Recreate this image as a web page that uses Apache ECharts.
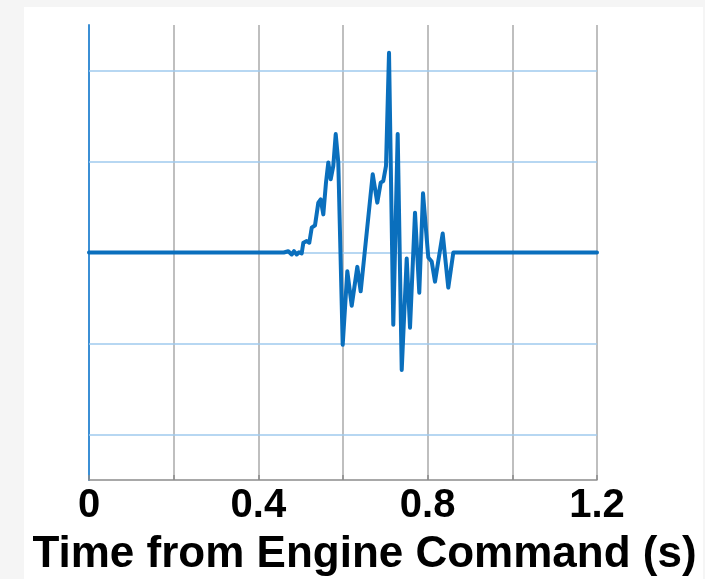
<!DOCTYPE html>
<html>
<head>
<meta charset="utf-8">
<script src="https://cdn.jsdelivr.net/npm/echarts@6/dist/echarts.min.js"></script>
<style>
  html, body { margin: 0; padding: 0; background: #f5f5f5; width: 705px; height: 579px; overflow: hidden; }
  #chart { position: absolute; left: 24px; top: 7px; width: 679px; height: 572px; background: #ffffff; }
</style>
</head>
<body>
<div id="chart"></div>
<script>
// Time samples (s) and measured response around the engine command event
const timeS = [
  0, 0.46, 0.4708, 0.4788, 0.4843, 0.4906, 0.4961, 0.5024, 0.5063, 0.5142,
  0.5204, 0.5261, 0.5339, 0.5417, 0.5473, 0.5535, 0.5598, 0.5653, 0.5709, 0.5771,
  0.5828, 0.5889, 0.5993, 0.6102, 0.6206, 0.6338, 0.6418, 0.6702, 0.6810, 0.6891,
  0.6952, 0.7016, 0.7087, 0.7188, 0.7292, 0.7387, 0.7505, 0.7583, 0.7701, 0.7802,
  0.7890, 0.8015, 0.8095, 0.8173, 0.8355, 0.8487, 0.8606, 1.2
];
const response = [
  0, 0, 0.014, -0.022, 0.014, -0.022, 0.003, -0.011, 0.107, 0.125,
  0.107, 0.272, 0.298, 0.548, 0.584, 0.419, 0.768, 0.989, 0.805, 0.951,
  1.301, 0.989, -1.014, -0.206, -0.584, -0.158, -0.427, 0.860, 0.548, 0.768,
  0.786, 0.951, 2.194, -0.794, 1.301, -1.290, -0.066, -0.827, 0.438, -0.441,
  0.650, -0.055, -0.099, -0.320, 0.209, -0.386, 0, 0
];
// Horizontal reference levels and labelled time ticks
const yGridLevels = [-2, -1, 0, 1, 2];
const xTickLabels = ['0', '0.4', '0.8', '1.2'];
const xAxisTitle = 'Time from Engine Command (s)';

const FONT = 'Liberation Sans, Arial, sans-serif';
const chart = echarts.init(document.getElementById('chart'), null, { renderer: 'canvas' });

chart.setOption({
  animation: false,
  backgroundColor: '#ffffff',
  grid: { left: 65, right: 106, top: 18, bottom: 99 },
  xAxis: {
    type: 'value',
    min: 0,
    max: 1.2,
    interval: 0.2,
    axisLine: { show: true, onZero: false, lineStyle: { color: '#8c8c8c', width: 1.5 } },
    axisTick: { show: true, inside: true, length: 5, lineStyle: { color: '#8c8c8c', width: 1.5 } },
    splitLine: { show: true, lineStyle: { color: '#bfbfbf', width: 2 } },
    axisLabel: {
      margin: 6,
      fontSize: 40,
      fontWeight: 'bold',
      fontFamily: FONT,
      color: '#000000',
      formatter: function (v) {
        const s = String(Math.round(v * 10) / 10);
        return xTickLabels.indexOf(s) >= 0 ? s : '';
      }
    }
  },
  yAxis: {
    type: 'value',
    min: -2.5,
    max: 2.5,
    axisLine: { show: true, lineStyle: { color: '#3b8fd5', width: 2 } },
    axisTick: { show: false },
    axisLabel: { show: false },
    splitLine: { show: false }
  },
  series: [
    {
      // horizontal grid levels, kept beneath the signal trace
      type: 'line',
      data: [],
      z: 1,
      silent: true,
      markLine: {
        z: 1,
        silent: true,
        symbol: 'none',
        animation: false,
        label: { show: false },
        lineStyle: { color: '#9fcaee', width: 1.5, type: 'solid' },
        data: yGridLevels.map(v => ({ yAxis: v }))
      }
    },
    {
      type: 'line',
      z: 10,
      data: timeS.map((t, i) => [t, response[i]]),
      showSymbol: false,
      symbol: 'none',
      lineStyle: { color: '#0a6fbd', width: 4, join: 'round', cap: 'round' }
    }
  ],
  graphic: [
    {
      type: 'text',
      x: 340.5,
      y: 548,
      style: {
        text: xAxisTitle,
        font: 'bold 44px ' + FONT,
        fill: '#000000',
        align: 'center',
        verticalAlign: 'middle',
        textAlign: 'center',
        textVerticalAlign: 'middle'
      }
    }
  ]
});
</script>
</body>
</html>
